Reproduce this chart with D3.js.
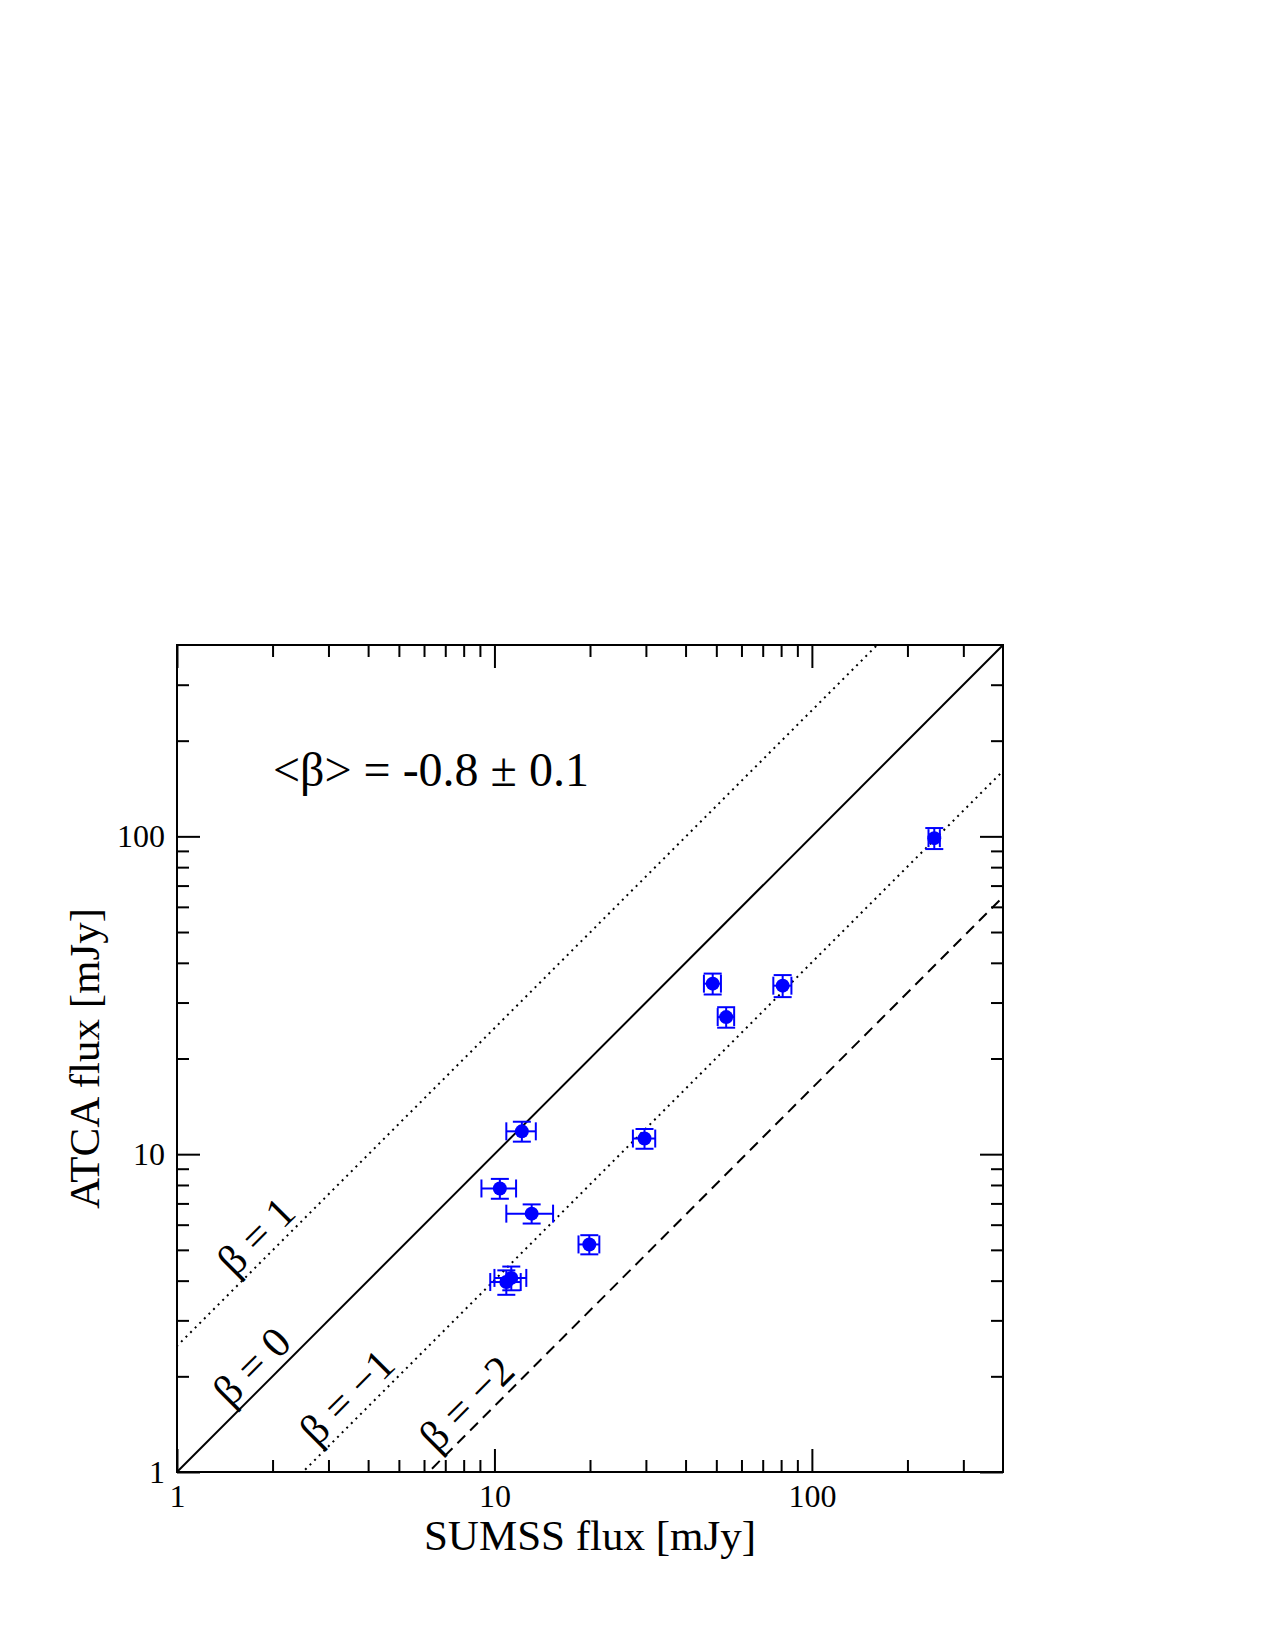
<!DOCTYPE html>
<html>
<head>
<meta charset="utf-8">
<script src="https://cdn.jsdelivr.net/npm/d3@7"></script>
<style>
  body { margin: 0; background: #fff; }
  svg { display: block; font-family: "Liberation Serif", "Times New Roman", serif; }
</style>
</head>
<body>
<div id="chart"></div>
<script>
// SUMSS (843 MHz) vs ATCA flux, mJy
const sumss    = [243, 12.2, 10.4, 13.1, 19.9, 29.7, 10.9, 11.3, 48.7, 53.7, 80.9];
const sumssErr = [10, 1.3, 1.3, 2.2, 1.5, 2.4, 1.2, 1.3, 3.0, 3.2, 5.3];
const atca     = [98.7, 11.8, 7.8, 6.5, 5.2, 11.2, 3.96, 4.08, 34.4, 27.0, 33.9];
const atcaErr  = [7.5, 0.85, 0.56, 0.45, 0.36, 0.8, 0.35, 0.35, 2.6, 2.0, 2.7];

// spectral index reference lines
const betas = [1, 0, -1, -2];
const betaLabels = ["β = 1", "β = 0", "β = −1", "β = −2"];
const betaLabelAt = [1.773, 1.72, 3.43, 8.17];   // x value where each label sits
const freqRatio = 2100 / 843;

const majorTicks = [1, 10, 100];
const minorTicks = [2, 3, 4, 5, 6, 7, 8, 9, 20, 30, 40, 50, 60, 70, 80, 90, 200, 300];

const W = 1275, H = 1650;
const margin = { left: 177, top: 645 };
const width = 826, height = 827;
const serif = '"Liberation Serif", "Times New Roman", serif';

const svg = d3.select('#chart').append('svg')
    .attr('width', W)
    .attr('height', H);

const g = svg.append('g')
    .attr('transform', `translate(${margin.left},${margin.top})`);

const x = d3.scaleLog().domain([1, 400]).range([0, width]);
const y = d3.scaleLog().domain([1, 400]).range([height, 0]);

g.append('clipPath').attr('id', 'clip')
    .append('rect').attr('width', width).attr('height', height);

// reference lines
const lineStyle = {
    '1': '2,4.5',
    '0': null,
    '-1': '2,4.5',
    '-2': '11,7'
};
const lines = g.append('g').attr('clip-path', 'url(#clip)');
betas.forEach(b => {
    const f = s => s * Math.pow(freqRatio, b);
    lines.append('line')
        .attr('x1', x(0.1)).attr('y1', y(f(0.1)))
        .attr('x2', x(1000)).attr('y2', y(f(1000)))
        .attr('stroke', '#000')
        .attr('stroke-width', 2)
        .attr('stroke-dasharray', lineStyle[String(b)]);
});

betas.forEach((b, i) => {
    const xv = betaLabelAt[i];
    const px = x(xv), py = y(xv * Math.pow(freqRatio, b)) - 31;
    g.append('text')
        .attr('transform', `translate(${px},${py}) rotate(-45)`)
        .attr('text-anchor', 'middle')
        .attr('dominant-baseline', 'central')
        .attr('font-size', 43)
        .text(betaLabels[i]);
});

// axes: major + minor ticks on all four sides, pointing inward
const fmt = d3.format('d');
const axisSpecs = [
    { gen: d3.axisBottom, scale: x, t: `translate(0,${height})`, labels: true },
    { gen: d3.axisTop, scale: x, t: 'translate(0,0)', labels: false },
    { gen: d3.axisLeft, scale: y, t: 'translate(0,0)', labels: true },
    { gen: d3.axisRight, scale: y, t: `translate(${width},0)`, labels: false }
];
axisSpecs.forEach(a => {
    const major = g.append('g').attr('transform', a.t)
        .call(a.gen(a.scale).tickValues(majorTicks).tickSize(-23).tickPadding(12)
            .tickFormat(a.labels ? fmt : () => ''));
    const minor = g.append('g').attr('transform', a.t)
        .call(a.gen(a.scale).tickValues(minorTicks).tickSize(-12).tickFormat(() => ''));
    [major, minor].forEach(s => {
        s.attr('font-family', serif).attr('font-size', 32);
        s.select('.domain').remove();
        s.selectAll('line').attr('stroke', '#000').attr('stroke-width', 2);
        s.selectAll('text').attr('fill', '#000');
    });
});

g.append('rect')
    .attr('width', width).attr('height', height)
    .attr('fill', 'none')
    .attr('stroke', '#000')
    .attr('stroke-width', 2);

// data with error bars
const cap = 9;
const pts = g.append('g').attr('stroke', '#0000ff').attr('stroke-width', 2);
sumss.forEach((s, i) => {
    const cx = x(s), cy = y(atca[i]);
    const xl = x(s - sumssErr[i]), xr = x(s + sumssErr[i]);
    const yt = y(atca[i] + atcaErr[i]), yb = y(atca[i] - atcaErr[i]);
    pts.append('line').attr('x1', xl).attr('x2', xr).attr('y1', cy).attr('y2', cy);
    pts.append('line').attr('x1', xl).attr('x2', xl).attr('y1', cy - cap).attr('y2', cy + cap);
    pts.append('line').attr('x1', xr).attr('x2', xr).attr('y1', cy - cap).attr('y2', cy + cap);
    pts.append('line').attr('x1', cx).attr('x2', cx).attr('y1', yt).attr('y2', yb);
    pts.append('line').attr('x1', cx - cap).attr('x2', cx + cap).attr('y1', yt).attr('y2', yt);
    pts.append('line').attr('x1', cx - cap).attr('x2', cx + cap).attr('y1', yb).attr('y2', yb);
    pts.append('circle').attr('cx', cx).attr('cy', cy).attr('r', 7)
        .attr('fill', '#0000ff').attr('stroke', 'none');
});

// annotation
g.append('text')
    .attr('x', 273 - margin.left)
    .attr('y', 786 - margin.top)
    .attr('font-size', 48)
    .text('<β> = -0.8 ± 0.1');

// axis titles
svg.append('text')
    .attr('x', margin.left + width / 2)
    .attr('y', 1550)
    .attr('text-anchor', 'middle')
    .attr('font-size', 43)
    .text('SUMSS flux [mJy]');

svg.append('text')
    .attr('transform', `translate(99,${margin.top + height / 2}) rotate(-90)`)
    .attr('text-anchor', 'middle')
    .attr('font-size', 43)
    .text('ATCA flux [mJy]');
</script>
</body>
</html>
